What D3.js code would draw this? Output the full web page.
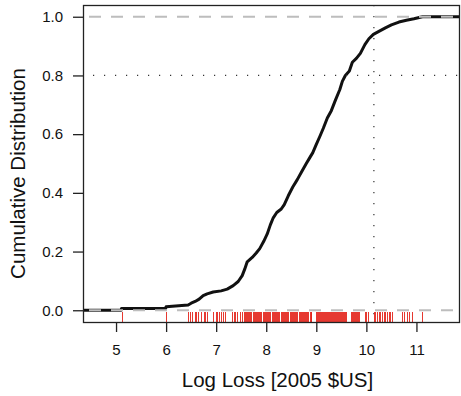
<meta charset="utf-8" />
<script src="https://cdn.jsdelivr.net/npm/d3@7"></script>
<style>
  body { margin: 0; background: #fff; }
  text { font-family: "Liberation Sans", Arial, Helvetica, sans-serif; fill: #111; }
</style>
<div id="chart"></div>
<script>
  // ECDF vertices: [log loss, cumulative share]
  const ecdfX = [4.0, 5.1, 5.11, 5.99, 6.0, 6.44, 6.5, 6.58, 6.66, 6.74, 6.82, 6.94, 7.1, 7.22, 7.34, 7.44, 7.52, 7.57,
    7.62, 7.72, 7.8, 7.87, 7.95, 8.02, 8.08, 8.14, 8.21, 8.3, 8.36, 8.44, 8.53, 8.62, 8.71, 8.8, 8.87,
    8.93, 9.0, 9.07, 9.14, 9.22, 9.3, 9.38, 9.47, 9.52, 9.58, 9.66, 9.72, 9.8, 9.88, 9.97, 10.05, 10.14,
    10.25, 10.38, 10.5, 10.65, 10.8, 10.95, 11.12, 12.0];
  const ecdfY = [0, 0, 0.006, 0.006, 0.012, 0.018, 0.024, 0.03, 0.038, 0.05, 0.056, 0.062, 0.066, 0.072, 0.084, 0.098, 0.118, 0.14,
    0.165, 0.18, 0.195, 0.21, 0.235, 0.26, 0.29, 0.315, 0.333, 0.345, 0.36, 0.39, 0.42, 0.445, 0.473, 0.5, 0.52,
    0.537, 0.565, 0.592, 0.62, 0.655, 0.68, 0.715, 0.752, 0.78, 0.8, 0.815, 0.845, 0.858, 0.875, 0.905, 0.925, 0.94,
    0.95, 0.962, 0.972, 0.982, 0.988, 0.993, 1.0, 1.0];

  // rug of observed log losses
  const rugValues = [5.11, 6.0, 6.44, 6.48, 6.52, 6.58, 6.6, 6.64, 6.7, 6.76, 6.78, 6.82, 6.94, 7.0, 7.02, 7.06, 7.1,
    7.14, 7.18, 7.32, 7.36, 7.38, 7.42, 7.48, 7.52, 7.56, 7.58, 7.6, 7.62, 7.64, 7.66, 7.68, 7.7, 7.73, 7.75,
    7.77, 7.79, 7.82, 7.84, 7.86, 7.88, 7.9, 7.93, 7.95, 7.97, 8.0, 8.02, 8.04, 8.06, 8.08, 8.11, 8.13, 8.15,
    8.17, 8.2, 8.22, 8.24, 8.26, 8.29, 8.31, 8.33, 8.35, 8.38, 8.4, 8.42, 8.44, 8.47, 8.49, 8.51, 8.53, 8.56,
    8.58, 8.6, 8.62, 8.65, 8.67, 8.69, 8.71, 8.74, 8.76, 8.78, 8.8, 8.82, 8.84, 8.87, 8.89, 8.9, 8.99, 9.01,
    9.03, 9.05, 9.07, 9.09, 9.11, 9.13, 9.15, 9.17, 9.19, 9.21, 9.23, 9.25, 9.27, 9.29, 9.31, 9.33, 9.35, 9.37,
    9.39, 9.41, 9.43, 9.45, 9.47, 9.49, 9.51, 9.53, 9.55, 9.57, 9.6, 9.69, 9.71, 9.73, 9.75, 9.77, 9.79, 9.81,
    9.83, 9.85, 9.97, 10.0, 10.03, 10.15, 10.18, 10.21, 10.25, 10.28, 10.31, 10.35, 10.38, 10.41, 10.45,
    10.48, 10.51, 10.71, 10.75, 10.81, 10.85, 10.91, 11.11];

  const xTicks = [5, 6, 7, 8, 9, 10, 11];
  const yTicks = [0, 0.2, 0.4, 0.6, 0.8, 1.0];
  const refX = 10.15; // vertical dotted marker
  const refY = 0.8;   // horizontal dotted marker

  const W = 461, H = 396;
  const box = { left: 83, right: 460, top: 5, bottom: 322 };

  const svg = d3.select('#chart').append('svg').attr('width', W).attr('height', H);

  const x = d3.scaleLinear().domain([4.34, 11.87]).range([box.left, box.right]);
  const y = d3.scaleLinear().domain([-0.04, 1.04]).range([box.bottom, box.top]);

  svg.append('clipPath').attr('id', 'clip').append('rect')
    .attr('x', box.left).attr('y', box.top)
    .attr('width', box.right - box.left).attr('height', box.bottom - box.top);

  const plot = svg.append('g').attr('clip-path', 'url(#clip)');

  // ecdf line
  const pts = ecdfX.map((v, i) => [v, ecdfY[i]]);
  plot.append('path')
    .datum(pts)
    .attr('fill', 'none')
    .attr('stroke', '#111')
    .attr('stroke-width', 3)
    .attr('stroke-linejoin', 'round')
    .attr('d', d3.line().x(d => x(d[0])).y(d => y(d[1])));

  // gray dashed at 0 and 1
  plot.selectAll('.hl').data([0, 1]).join('line')
    .attr('x1', box.left).attr('x2', box.right)
    .attr('y1', d => y(d)).attr('y2', d => y(d))
    .attr('stroke', '#bdbdbd').attr('stroke-width', 1.8)
    .attr('stroke-dasharray', '12,10').attr('stroke-dashoffset', -6);

  // dotted markers
  plot.append('line')
    .attr('x1', box.left).attr('x2', box.right)
    .attr('y1', y(refY)).attr('y2', y(refY))
    .attr('stroke', '#333').attr('stroke-width', 1.2)
    .attr('stroke-dasharray', '1.2,9.8').attr('stroke-dashoffset', -10);
  plot.append('line')
    .attr('x1', x(refX)).attr('x2', x(refX))
    .attr('y1', box.top).attr('y2', box.bottom)
    .attr('stroke', '#333').attr('stroke-width', 1.2)
    .attr('stroke-dasharray', '1.2,9.8');

  // rug (snapped to pixel centres so the ticks stay crisp)
  const rx = d => Math.round(x(d)) + 0.5;
  plot.selectAll('.rug').data(rugValues).join('line')
    .attr('x1', rx).attr('x2', rx)
    .attr('y1', box.bottom - 10).attr('y2', box.bottom)
    .attr('stroke', '#e3231b').attr('stroke-opacity', 0.9).attr('stroke-width', 1);

  // frame
  svg.append('rect')
    .attr('x', box.left + 0.5).attr('y', box.top + 0.5)
    .attr('width', box.right - box.left - 1).attr('height', box.bottom - box.top)
    .attr('fill', 'none').attr('stroke', '#222').attr('stroke-width', 1.3);

  // x axis
  const xAxis = svg.append('g').attr('transform', `translate(0,${box.bottom})`)
    .call(d3.axisBottom(x).tickValues(xTicks).tickSize(10).tickPadding(12).tickFormat(d3.format('d')));
  xAxis.select('.domain').remove();
  xAxis.selectAll('line').attr('stroke', '#222').attr('stroke-width', 1.3);
  xAxis.selectAll('text').attr('font-size', 15).attr('fill', '#111');

  // y axis
  const yAxis = svg.append('g').attr('transform', `translate(${box.left},0)`)
    .call(d3.axisLeft(y).tickValues(yTicks).tickSize(10).tickPadding(10).tickFormat(d3.format('.1f')));
  yAxis.select('.domain').remove();
  yAxis.selectAll('line').attr('stroke', '#222').attr('stroke-width', 1.3);
  yAxis.selectAll('text').attr('font-size', 15).attr('fill', '#111');

  svg.append('text')
    .attr('x', (box.left + box.right) / 2 + 6).attr('y', 387)
    .attr('text-anchor', 'middle').attr('font-size', 20.5)
    .text('Log Loss [2005 $US]');

  svg.append('text')
    .attr('transform', `translate(25,${(box.top + box.bottom) / 2 + 10}) rotate(-90)`)
    .attr('text-anchor', 'middle').attr('font-size', 20.5)
    .text('Cumulative Distribution');
</script>
